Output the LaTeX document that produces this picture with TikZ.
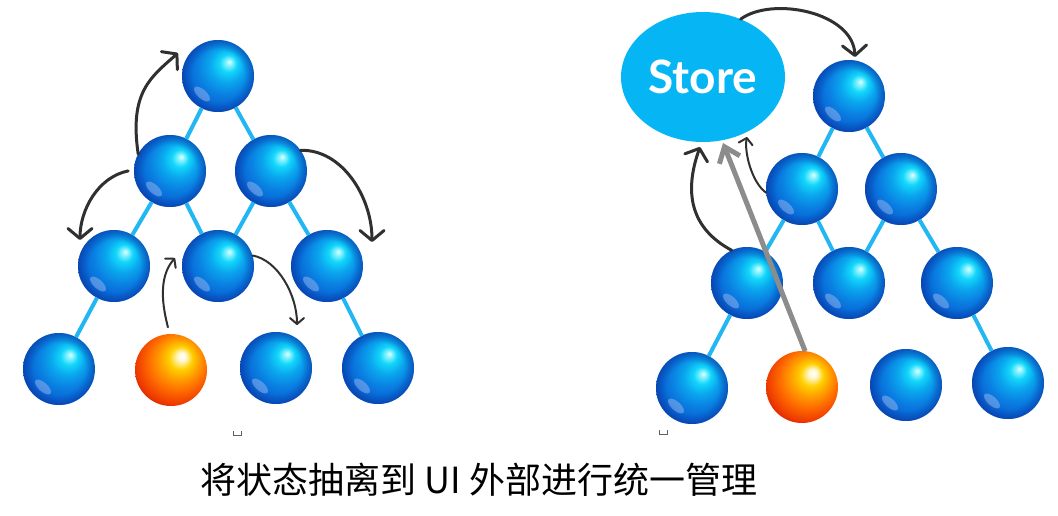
\documentclass[tikz,border=0pt]{standalone}
\usepackage{fontspec}
\newfontfamily\cjk{Noto Sans CJK SC}
\newfontfamily\storefont{Lato}
\usetikzlibrary{shapes.geometric,arrows.meta,fadings,calc}

\definecolor{bb0}{HTML}{E0FFFF}
\definecolor{bb1}{HTML}{90F4FF}
\definecolor{bb2}{HTML}{12D6FA}
\definecolor{bb3}{HTML}{0AA6EE}
\definecolor{bb4}{HTML}{0A80E2}
\definecolor{bb5}{HTML}{0862D2}
\definecolor{bb6}{HTML}{0446B4}
\definecolor{ballrim}{HTML}{0838A0}
\definecolor{ballrefl}{HTML}{A8C0F4}
\definecolor{or0}{HTML}{FFFFFF}
\definecolor{or1}{HTML}{FFF8D0}
\definecolor{or2}{HTML}{FFD000}
\definecolor{or3}{HTML}{FFA400}
\definecolor{or4}{HTML}{FF6E00}
\definecolor{or5}{HTML}{EE3A00}
\definecolor{or6}{HTML}{B81000}
\definecolor{or7}{HTML}{8A0000}
\definecolor{linkcyan}{HTML}{22B6F2}
\definecolor{storecyan}{HTML}{06B6F4}
\definecolor{arrowdark}{HTML}{303030}
\definecolor{arrowgray}{HTML}{8C8C8C}
\definecolor{markgray}{HTML}{606060}

\pgfdeclareradialshading{bshade}{\pgfpoint{8bp}{10bp}}{color(0bp)=(bb0); color(2bp)=(bb1); color(6bp)=(bb2); color(12bp)=(bb3); color(19bp)=(bb4); color(27bp)=(bb5); color(35bp)=(bb6); color(50bp)=(bb6)}
\pgfdeclareradialshading{orshade}{\pgfpoint{8bp}{10bp}}{color(0bp)=(or0); color(3bp)=(or1); color(8bp)=(or2); color(13bp)=(or3); color(20bp)=(or4); color(28bp)=(or5); color(35bp)=(or6); color(45bp)=(or7); color(50bp)=(or7)}
\pgfdeclareradialshading{rimshade}{\pgfpointorigin}{color(0bp)=(pgftransparent!100); color(18bp)=(pgftransparent!100); color(25bp)=(pgftransparent!45); color(50bp)=(pgftransparent!45)}
\pgfdeclarefading{rimfade}{\pgfuseshading{rimshade}}

\begin{document}
\begin{tikzpicture}[x=1pt,y=-1pt,
  blueball/.style={circle, minimum size=72pt, inner sep=0pt, outer sep=0pt, shading=bshade,
    path picture={
      \fill[ballrim, path fading=rimfade] (path picture bounding box.south west) rectangle (path picture bounding box.north east);
    }},
  orangeball/.style={circle, minimum size=72pt, inner sep=0pt, outer sep=0pt, shading=orshade},
  refl/.style={fill=ballrefl, opacity=.45},
  link/.style={draw=linkcyan, line width=4pt},
  arr/.style={draw=arrowdark, line width=3pt, line cap=round, -{Straight Barb[length=10pt,width=24pt,round]}},
  thinarr/.style={draw=arrowdark, line width=2pt, line cap=round, -{Straight Barb[length=6pt,width=14pt,round]}},
  grayarr/.style={draw=arrowgray, line width=5pt, -{Straight Barb[length=14pt,width=22pt]}},
  tickmark/.style={draw=markgray, line width=0.8pt},
]
\fill[white] (0,0) rectangle (1058,515);
\useasboundingbox (0,0) rectangle (1058,515);

% ---------- left tree ----------
\node[blueball] (L1)  at (218,76)  {};
\node[blueball] (L21) at (170,171) {};
\node[blueball] (L22) at (271,171) {};
\node[blueball] (L31) at (114,266) {};
\node[blueball] (L32) at (218,266) {};
\node[blueball] (L33) at (327,266) {};
\node[blueball] (L41) at (59,369)  {};
\node[orangeball] (L42) at (171,370) {};
\node[blueball] (L43) at (276,368) {};
\node[blueball] (L44) at (378,368) {};

% ---------- right tree ----------
\node[ellipse, fill=storecyan, minimum width=164pt, minimum height=130pt, inner sep=0pt, outer sep=0pt,
      text=white, font=\storefont\bfseries\fontsize{46}{52}\selectfont] (S) at (703,77) {Store};
\node[blueball] (R1)  at (849,96)  {};
\node[blueball] (R21) at (802,189) {};
\node[blueball] (R22) at (901,189) {};
\node[blueball] (R31) at (747,283) {};
\node[blueball] (R32) at (849,283) {};
\node[blueball] (R33) at (957,283) {};
\node[blueball] (R41) at (692,388) {};
\node[orangeball] (R42) at (802,387) {};
\node[blueball] (R43) at (906,385) {};
\node[blueball] (R44) at (1008,383) {};

% lower-left reflections on the blue balls
\foreach \n in {L1,L21,L22,L31,L32,L33,L41,L43,L44,R1,R21,R22,R31,R32,R33,R41,R43,R44}{
  \coordinate (rp) at ($(\n)+(-16,18)$);
  \fill[refl, rotate around={-42:(rp)}] (rp) ellipse (10 and 4.5);
}

\draw[link] (L1) -- (L21);
\draw[link] (L1) -- (L22);
\draw[link] (L21) -- (L31);
\draw[link] (L21) -- (L32);
\draw[link] (L22) -- (L32);
\draw[link] (L22) -- (L33);
\draw[link] (L31) -- (L41);
\draw[link] (L33) -- (L44);

\coordinate (a1e) at (178,53);
\coordinate (a2e) at (80,240);
\coordinate (a3e) at (372,242);
\coordinate (a4e) at (175,258);
\coordinate (a5e) at (297,325);

\draw[arr] (L21.152) .. controls (129,92) and (151,77) .. (a1e);
\draw[arr, shorten <=6pt] (L21.178) .. controls (98,177) and (80,210) .. (a2e);
\draw[arr] (L22.35) .. controls (342,149) and (372,197) .. (a3e);
\draw[thinarr, shorten <=7pt] (L42.92) .. controls (160,297) and (161,274) .. (a4e);
\draw[thinarr] (L32.17) .. controls (278,260) and (297,295) .. (a5e);

\draw[link] (R1) -- (R21);
\draw[link] (R1) -- (R22);
\draw[link] (R21) -- (R31);
\draw[link] (R21) -- (R32);
\draw[link] (R22) -- (R32);
\draw[link] (R22) -- (R33);
\draw[link] (R31) -- (R41);
\draw[link] (R33) -- (R44);

\coordinate (b1e) at (855,57);
\coordinate (b2e) at (700,147);
\coordinate (b3e) at (747,137);
\coordinate (b4e) at (723,143);

\draw[arr] (S.57) .. controls (772,-4) and (853,12) .. (b1e);
\draw[arr] (R31.115) .. controls (690,228) and (684,192) .. (b2e);
\draw[thinarr] (R21.186) .. controls (752,183) and (744,152) .. (b3e);
\draw[grayarr] (R42.85) -- (b4e);

% small marks
\draw[tickmark] (233,431) -- (233,435) -- (241,435) -- (241,431);
\draw[tickmark] (659,430) -- (659,434) -- (667,434) -- (667,430);

% caption
\node[font=\cjk\fontsize{36}{42}\selectfont, text=black, inner sep=0pt] (cap) at (479,480) {将状态抽离到 UI 外部进行统一管理};
\end{tikzpicture}
\end{document}
